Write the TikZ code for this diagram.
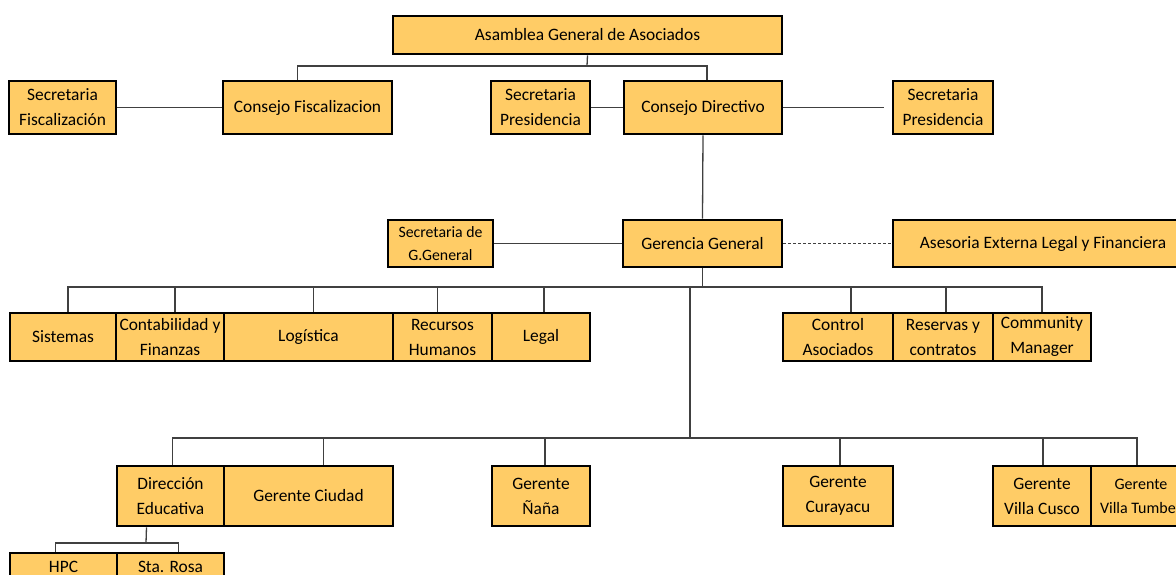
\documentclass[tikz,border=0pt]{standalone}
\usepackage{fontspec}
\setmainfont{Carlito}
\usepackage{tikz}
\usetikzlibrary{calc}
\definecolor{boxfill}{RGB}{255,204,102}
\definecolor{linkgray}{RGB}{64,64,64}

\begin{document}
\begin{tikzpicture}[
  x=1pt, y=-1pt,
  box/.style={draw=black, line width=2.6pt, fill=boxfill, inner sep=0pt, align=center,
    font=\fontsize{17.4}{25}\selectfont},
  link/.style={draw=linkgray, line width=1.3pt},
  every node/.append style={text=black}
]
\useasboundingbox (0,0) rectangle (1176,575);
\clip (0,0) rectangle (1176,575);
% top level
\node[box, minimum width=389pt, minimum height=38pt] (asamblea) at (587.5,35) {Asamblea General de Asociados};
% councils
\node[box, minimum width=107pt, minimum height=53pt] (secfis) at (62.5,107.5) {Secretaria\\Fiscalización};
\node[box, minimum width=169pt, minimum height=53pt] (consfis) at (307.5,107.5) {Consejo Fiscalizacion};
\node[box, minimum width=99pt, minimum height=53pt] (secpres) at (540.5,107.5) {Secretaria\\Presidencia};
\node[box, minimum width=158pt, minimum height=53pt] (consdir) at (703,107.5) {Consejo Directivo};
\node[box, minimum width=100pt, minimum height=53pt] (secpresb) at (943,107.5) {Secretaria\\Presidencia};
% gerencia
\node[box, minimum width=105pt, minimum height=47pt, font=\fontsize{15.8}{23}\selectfont] (secgg) at (440.5,243.5) {Secretaria de\\G.General};
\node[box, minimum width=159pt, minimum height=47pt] (gerencia) at (702.5,243.5) {Gerencia General};
\node[box, minimum width=300pt, minimum height=47pt] (asesoria) at (1043,243.5) {Asesoria Externa Legal y Financiera};
% areas
\node[box, minimum width=106pt, minimum height=48pt] (sistemas) at (63,337) {Sistemas};
\node[box, minimum width=108pt, minimum height=48pt] (conta) at (170,337) {Contabilidad y\\Finanzas};
\node[box, minimum width=169pt, minimum height=48pt] (logistica) at (308.5,337) {Logística};
\node[box, minimum width=99pt, minimum height=48pt] (rrhh) at (442.5,337) {Recursos\\Humanos};
\node[box, minimum width=98pt, minimum height=48pt] (legal) at (541,337) {Legal};
\node[box, minimum width=110pt, minimum height=48pt] (control) at (838,337) {Control\\Asociados};
\node[box, minimum width=100pt, minimum height=48pt] (reservas) at (943,337) {Reservas y\\contratos};
\node[box, minimum width=98pt, minimum height=48pt] (community) at (1042,337) {Community\\Manager};
% gerentes
\node[box, minimum width=107pt, minimum height=60pt] (direduc) at (170.5,496) {Dirección\\Educativa};
\node[box, minimum width=169pt, minimum height=60pt] (gciudad) at (308.5,496) {Gerente Ciudad};
\node[box, minimum width=98pt, minimum height=60pt] (gnana) at (541,496) {Gerente\\Ñaña};
\node[box, minimum width=110pt, minimum height=60pt] (gcura) at (838,496) {Gerente\\Curayacu};
\node[box, minimum width=98pt, minimum height=60pt] (gcusco) at (1042,496) {Gerente\\Villa Cusco};
\node[box, minimum width=100pt, minimum height=60pt, font=\fontsize{16}{24}\selectfont] (gtumbes) at (1141,496) {Gerente\\Villa Tumbes};
% sedes
\node[box, minimum width=107pt, minimum height=53pt] (hpc) at (63.5,579.5) {HPC\\\mbox{}};
\node[box, minimum width=107pt, minimum height=53pt] (starosa) at (170.5,579.5) {Sta. Rosa\\\mbox{}};
% links
\coordinate (busa) at (587,66);
\draw[link] (asamblea.south) -- (busa);
\draw[link] (busa) -| ([xshift=-10pt]consfis.north);
\draw[link] (busa) -| ([xshift=4pt]consdir.north);
\draw[link] (secfis) -- (consfis);
\draw[link] (secpres) -- (consdir);
\draw[link, shorten >=8pt] (consdir) -- (secpresb);
\draw[link] (consdir.south) -- (gerencia.north);
\draw[link] (secgg) -- (gerencia);
\draw[link, dash pattern=on 3pt off 2pt] (gerencia) -- (asesoria);
\coordinate (busb) at (702.5,287);
\coordinate (split) at (690,287);
\coordinate (busc) at (690,438);
\draw[link] (gerencia.south) -- (busb);
\foreach \n/\dx in {sistemas/5, conta/5, logistica/5, rrhh/-5, legal/3, control/13, reservas/3, community/0}
  \draw[link] (busb) -| ([xshift=\dx pt]\n.north);
\draw[link] (split) -- (busc);
\foreach \n/\dx in {direduc/2, gciudad/15, gnana/4, gcura/2, gcusco/1, gtumbes/-4}
  \draw[link] (busc) -| ([xshift=\dx pt]\n.north);
\coordinate (busd) at (146,543);
\draw[link] ([xshift=-24pt]direduc.south) -- (busd);
\draw[link] (busd) -| ([xshift=-8pt]hpc.north);
\draw[link] (busd) -| ([xshift=8pt]starosa.north);
\end{tikzpicture}
\end{document}
